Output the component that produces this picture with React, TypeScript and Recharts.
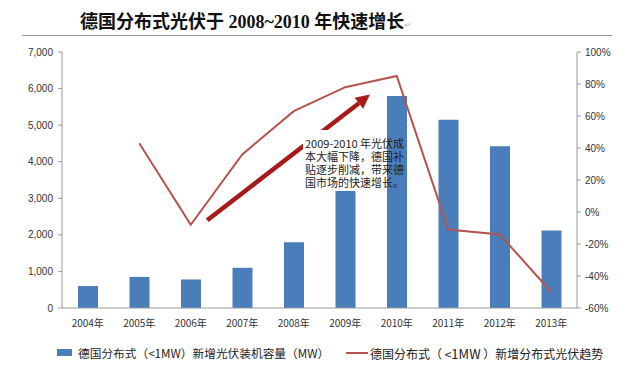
import { ComposedChart, Bar, Line, XAxis, YAxis, ReferenceLine } from 'recharts'

const years = ['2004年', '2005年', '2006年', '2007年', '2008年', '2009年', '2010年', '2011年', '2012年', '2013年']
const capacityMW = [600, 850, 780, 1100, 1800, 3200, 5800, 5150, 4420, 2120]
const trendPct: (number | null)[] = [null, 43, -8, 36, 63, 78, 85, -11, -14, -50]

const leftTicks = [0, 1000, 2000, 3000, 4000, 5000, 6000, 7000]
const rightTicks = [-60, -40, -20, 0, 20, 40, 60, 80, 100]

const rows = years.map((y, i) => ({ year: y, cap: capacityMW[i], trend: trendPct[i] }))

const BLUE = '#4a7ebb'
const RED = '#b5534f'
const ARROW = '#a81a1a'
const CJK = '"Noto Sans CJK SC", "Noto Sans", sans-serif'

// thick annotation arrow, trimmed along the 2006 -> 2010 segment
const Arrow = (p: any) => {
  const t0 = 0.08
  const t1 = 0.87
  const ax = p.x1 + (p.x2 - p.x1) * t0
  const ay = p.y1 + (p.y2 - p.y1) * t0
  const bx = p.x1 + (p.x2 - p.x1) * t1
  const by = p.y1 + (p.y2 - p.y1) * t1
  const ang = Math.atan2(by - ay, bx - ax)
  const len = 14
  const w = 7
  const cx = bx - len * Math.cos(ang)
  const cy = by - len * Math.sin(ang)
  const nx = -Math.sin(ang) * w
  const ny = Math.cos(ang) * w
  return (
    <g>
      <line x1={ax} y1={ay} x2={cx} y2={cy} stroke={ARROW} strokeWidth={4.5} />
      <polygon points={`${bx},${by} ${cx + nx},${cy + ny} ${cx - nx},${cy - ny}`} fill={ARROW} />
    </g>
  )
}

export default function App() {
  return (
    <div style={{ position: 'absolute', left: 0, top: 0, width: 636, height: 374, background: '#fff', overflow: 'hidden' }}>
      <div
        style={{
          position: 'absolute',
          left: 80,
          top: 7,
          fontFamily: '"Liberation Serif", "Noto Sans CJK SC", serif',
          fontWeight: 'bold',
          fontSize: 18,
          color: '#111',
          whiteSpace: 'nowrap',
        }}
      >
        德国分布式光伏于 2008~2010 年快速增长<span style={{ color: '#bbb', fontSize: 9, fontWeight: 'normal' }}>↵</span>
      </div>
      <div style={{ position: 'absolute', left: 22, top: 35, width: 590, height: 1, background: '#999' }} />

      <div style={{ position: 'absolute', left: 0, top: 0 }}>
        <ComposedChart width={636} height={374} data={rows} margin={{ top: 52, right: 14, bottom: 36, left: 12 }}>
          <XAxis
            dataKey="year"
            tick={{ fontSize: 10, fill: '#333', fontFamily: CJK }}
            tickLine={false}
            tickMargin={6}
            axisLine={{ stroke: '#999' }}
            height={30}
            interval={0}
          />
          <YAxis
            yAxisId="left"
            domain={[0, 7000]}
            ticks={leftTicks}
            width={50}
            tick={{ fontSize: 10, fill: '#333', fontFamily: 'Liberation Sans, sans-serif' }}
            tickFormatter={(v: number) => v.toLocaleString('en-US')}
            tickLine={{ stroke: '#999' }}
            tickSize={4}
            tickMargin={5}
            axisLine={{ stroke: '#999' }}
          />
          <YAxis
            yAxisId="right"
            orientation="right"
            domain={[-60, 100]}
            ticks={rightTicks}
            width={45}
            tick={{ fontSize: 10, fill: '#333', fontFamily: 'Liberation Sans, sans-serif' }}
            tickFormatter={(v: number) => `${v}%`}
            tickLine={{ stroke: '#999' }}
            tickSize={4}
            tickMargin={4}
            axisLine={{ stroke: '#999' }}
          />
          <Bar yAxisId="left" dataKey="cap" fill={BLUE} barSize={20} isAnimationActive={false} />
          <Line
            yAxisId="right"
            dataKey="trend"
            stroke={RED}
            strokeWidth={2}
            dot={false}
            type="linear"
            isAnimationActive={false}
          />
          <ReferenceLine
            yAxisId="left"
            segment={[{ x: '2006年', y: 2050 }, { x: '2010年', y: 6400 }]}
            shape={Arrow}
            ifOverflow="visible"
          />
        </ComposedChart>
      </div>

      <div style={{ position: 'absolute', left: 303, top: 130, width: 84, height: 61, background: '#fff' }} />
      <div
        style={{
          position: 'absolute',
          left: 305,
          top: 137,
          width: 102,
          fontFamily: CJK,
          fontSize: 11,
          lineHeight: '13px',
          color: '#222',
        }}
      >
        2009-2010 年光伏成本大幅下降，德国补贴逐步削减，带来德国市场的快速增长。
      </div>

      <div style={{ position: 'absolute', left: 57, top: 349, width: 15, height: 7, background: BLUE }} />
      <div style={{ position: 'absolute', left: 78, top: 344, fontFamily: CJK, fontSize: 11.7, color: '#222', whiteSpace: 'nowrap' }}>
        德国分布式（&lt;1MW）新增光伏装机容量（MW）
      </div>
      <div style={{ position: 'absolute', left: 346, top: 352, width: 22, height: 2, background: RED }} />
      <div style={{ position: 'absolute', left: 370, top: 344, fontFamily: CJK, fontSize: 12, color: '#222', whiteSpace: 'nowrap' }}>
        德国分布式（ &lt;<span style={{ fontSize: 13 }}>1MW</span> ）新增分布式光伏趋势
      </div>
    </div>
  )
}
